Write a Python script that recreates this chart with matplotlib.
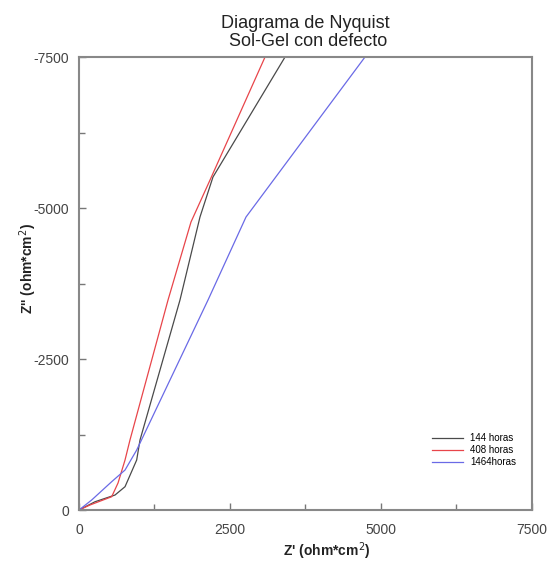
import matplotlib
matplotlib.use("Agg")
import matplotlib.pyplot as plt
from matplotlib.ticker import MultipleLocator

plt.rcParams['font.family'] = ['Liberation Sans', 'DejaVu Sans']
plt.rcParams['axes.unicode_minus'] = False

# Data (Z' , Z'') in ohm*cm^2
x_144 = [0, 265, 596, 762, 955, 1010, 1672, 2003, 2218, 3411]
y_144 = [0, -137, -248, -386, -828, -1159, -3477, -4851, -5513, -7500]

x_408 = [0, 182, 541, 646, 762, 844, 1474, 1854, 2169, 3080]
y_408 = [0, -83, -220, -447, -828, -1159, -3477, -4768, -5463, -7500]

x_1464 = [0, 210, 541, 762, 955, 2136, 2765, 4735]
y_1464 = [0, -166, -469, -662, -993, -3477, -4851, -7500]

labels = ["144 horas", "408 horas", "1464horas"]
xticks = [0, 2500, 5000, 7500]
yticks = [0, -2500, -5000, -7500]

fig = plt.figure(figsize=(5.49, 5.63), dpi=100)
ax = fig.add_axes([0.1439, 0.0941, 0.8251, 0.8046])

ax.plot(x_144, y_144, color='#4a4a4a', lw=0.9, label=labels[0])
ax.plot(x_408, y_408, color='#e8454a', lw=0.9, label=labels[1])
ax.plot(x_1464, y_1464, color='#6a6ae6', lw=0.9, label=labels[2])

ax.set_xlim(0, 7500)
ax.set_ylim(0, -7500)
ax.set_xticks(xticks)
ax.set_yticks(yticks)
ax.set_xticklabels([str(t) for t in xticks])
ax.set_yticklabels([str(t) for t in yticks])
ax.xaxis.set_minor_locator(MultipleLocator(1250))
ax.yaxis.set_minor_locator(MultipleLocator(1250))
ax.tick_params(which='both', direction='in', color='#777777', width=1, labelsize=10, labelcolor='#444444')
ax.tick_params(which='major', length=5)
ax.tick_params(which='minor', length=4)
ax.tick_params(axis='x', which='major', pad=9)
ax.tick_params(axis='y', which='major', pad=7)
for s in ax.spines.values():
    s.set_color('#888888')
    s.set_linewidth(1.5)

ax.set_xlabel("Z' (ohm*cm$^2$)", fontsize=10, fontweight='bold', color='#222222')
ax.set_ylabel("Z'' (ohm*cm$^2$)", fontsize=10, fontweight='bold', color='#222222')
ax.xaxis.set_label_coords(0.547, -0.066)
ax.yaxis.set_label_coords(-0.088, 0.534)
ax.set_title("Diagrama de Nyquist\n Sol-Gel con defecto", fontsize=13, color='#222222', pad=8, linespacing=1.1)

leg = ax.legend(loc='lower right', bbox_to_anchor=(0.985, 0.075), frameon=False, fontsize=7,
                handlelength=3.2, labelspacing=0.2, handletextpad=0.8)

fig.savefig("out.png", dpi=100)
